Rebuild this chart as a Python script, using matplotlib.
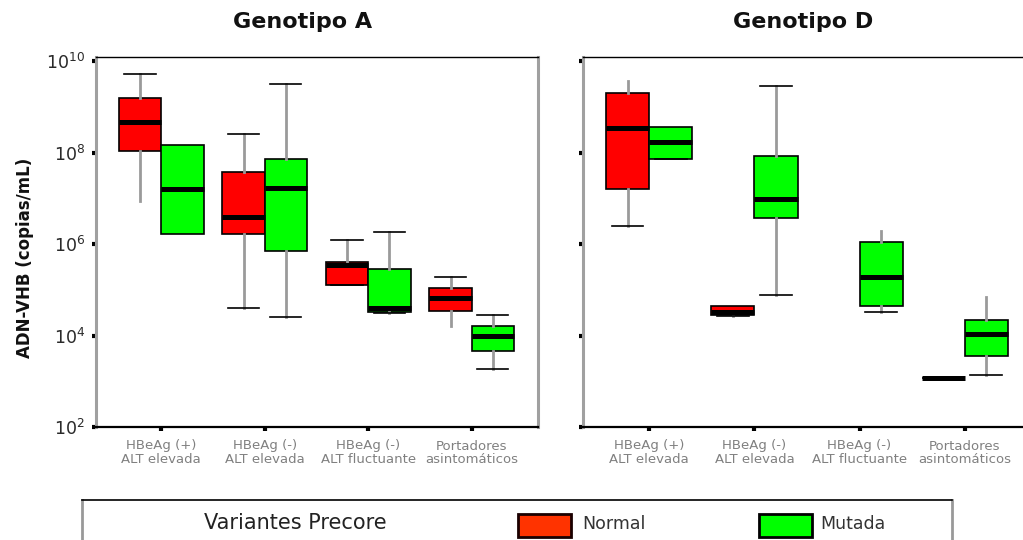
import matplotlib
matplotlib.use("Agg")
import matplotlib.pyplot as plt
from matplotlib.patches import Rectangle

plt.rcParams["font.family"] = ["DejaVu Sans"]

W, H = 1023, 540

categories = ["HBeAg (+)\nALT elevada", "HBeAg (-)\nALT elevada",
              "HBeAg (-)\nALT fluctuante", "Portadores\nasintomáticos"]
panels = ["Genotipo A", "Genotipo D"]
series = ["Normal", "Mutada"]

# (lower whisker, Q1, median, Q3, upper whisker) per category, copias/mL; None = no data
genotipo_a_normal = [(8.9e6, 1.1e8, 4.6e8, 1.6e9, 5.1e9),
                     (3.9e4, 1.7e6, 4.0e6, 3.7e7, 2.5e8),
                     (1.26e5, 1.3e5, 3.5e5, 4.1e5, 1.2e6),
                     (1.6e4, 3.4e4, 6.5e4, 1.1e5, 1.9e5)]
genotipo_a_mutada = [(1.7e6, 1.7e6, 1.6e7, 1.5e8, 1.5e8),
                     (2.5e4, 6.9e5, 1.7e7, 7.2e7, 3.2e9),
                     (3.1e4, 3.3e4, 3.9e4, 2.8e5, 1.8e6),
                     (1.9e3, 4.5e3, 1.0e4, 1.6e4, 2.8e4)]
genotipo_d_normal = [(2.5e6, 1.6e7, 3.4e8, 2.0e9, 3.6e9),
                     (2.7e4, 2.75e4, 3.3e4, 4.5e4, 4.5e4),
                     None,
                     (1.2e3, 1.2e3, 1.2e3, 1.2e3, 1.2e3)]
genotipo_d_mutada = [(7.2e7, 7.4e7, 1.7e8, 3.7e8, 3.7e8),
                     (7.8e4, 3.8e6, 9.5e6, 8.5e7, 2.9e9),
                     (3.2e4, 4.4e4, 1.9e5, 1.1e6, 1.9e6),
                     (1.35e3, 3.5e3, 1.07e4, 2.2e4, 6.8e4)]

ytick_values = [1e2, 1e4, 1e6, 1e8, 1e10]
ytick_labels = ["$10^{2}$", "$10^{4}$", "$10^{6}$", "$10^{8}$", "$10^{10}$"]

colors = {"Normal": "#ff0000", "Mutada": "#00ff00"}
legend_colors = {"Normal": "#ff3300", "Mutada": "#00ff00"}
offsets = {"Normal": -0.205, "Mutada": 0.205}

# whisker ends drawn without a cap: (panel, series, category index, 0=lower / 1=upper)
capless = {("Genotipo A", "Normal", 0, 0), ("Genotipo A", "Normal", 3, 0),
           ("Genotipo A", "Mutada", 0, 0), ("Genotipo A", "Mutada", 0, 1),
           ("Genotipo D", "Normal", 0, 1), ("Genotipo D", "Normal", 1, 1),
           ("Genotipo D", "Normal", 3, 0), ("Genotipo D", "Normal", 3, 1),
           ("Genotipo D", "Mutada", 0, 1),
           ("Genotipo D", "Mutada", 2, 1), ("Genotipo D", "Mutada", 3, 1)}

panel_data = {
    "Genotipo A": {"Normal": genotipo_a_normal, "Mutada": genotipo_a_mutada},
    "Genotipo D": {"Normal": genotipo_d_normal, "Mutada": genotipo_d_mutada},
}

fig = plt.figure(figsize=(W / 100, H / 100), dpi=100)

axes_px = {"Genotipo A": (96, 538), "Genotipo D": (583, 1032)}
top_px, bottom_px = 57, 427
title_x = {"Genotipo A": 303, "Genotipo D": 803}

for name in panels:
    x0, x1 = axes_px[name]
    ax = fig.add_axes([x0 / W, 1 - bottom_px / H, (x1 - x0) / W, (bottom_px - top_px) / H])
    for s in series:
        stats, pos, idx = [], [], []
        for i, vals in enumerate(panel_data[name][s]):
            if vals is None:
                continue
            lo, q1, med, q3, hi = vals
            stats.append(dict(whislo=lo, q1=q1, med=med, q3=q3, whishi=hi, fliers=[]))
            pos.append(i + 1 + offsets[s])
            idx.append(i)
        art = ax.bxp(stats, positions=pos, widths=0.41, capwidths=0.3, patch_artist=True,
                     showfliers=False,
                     boxprops=dict(facecolor=colors[s], edgecolor="black", linewidth=1.2),
                     medianprops=dict(color="black", linewidth=3.6, solid_capstyle="butt"),
                     whiskerprops=dict(color="#9a9a9a", linewidth=2.0),
                     capprops=dict(color="black", linewidth=1.2))
        for k, i in enumerate(idx):
            for end in (0, 1):
                if (name, s, i, end) in capless:
                    art["caps"][2 * k + end].set_visible(False)
    ax.set_yscale("log")
    ax.set_ylim(1e2, 10 ** 10.09)
    ax.set_xlim(0.37, 4.64)
    ax.set_yticks(ytick_values)
    ax.minorticks_off()
    ax.set_xticks(range(1, len(categories) + 1))
    ax.set_xticklabels(categories, fontsize=9.5, color="#808080", linespacing=1.05)
    if name == "Genotipo A":
        ax.set_yticklabels(ytick_labels, fontsize=12.5, color="#2a2a2a")
    else:
        ax.set_yticklabels([])
    ax.tick_params(axis="both", direction="out", length=3, width=3, color="black")
    ax.tick_params(axis="x", pad=6)
    ax.tick_params(axis="y", pad=5)
    ax.spines["left"].set_color("#a0a0a0")
    ax.spines["left"].set_linewidth(2.2)
    ax.spines["right"].set_color("#a0a0a0")
    ax.spines["right"].set_linewidth(2.2)
    ax.spines["bottom"].set_color("black")
    ax.spines["bottom"].set_linewidth(1.6)
    ax.spines["top"].set_color("black")
    ax.spines["top"].set_linewidth(1.0)
    fig.text(title_x[name] / W, 1 - 22 / H, name, ha="center", va="center",
             fontsize=16, fontweight="bold", color="#111111")

fig.text(25 / W, 1 - 258 / H, "ADN-VHB (copias/mL)", rotation=90, ha="center",
         va="center", fontsize=12, fontweight="bold", color="#111111")

# legend frame below the panels
lax = fig.add_axes([82 / W, 1 - 567 / H, (952 - 82) / W, (567 - 500) / H])
lax.set_xlim(82, 952)
lax.set_ylim(567, 500)
lax.set_xticks([])
lax.set_yticks([])
lax.patch.set_alpha(0)
lax.spines["bottom"].set_visible(False)
lax.spines["top"].set_color("black")
lax.spines["top"].set_linewidth(1.2)
for side in ("left", "right"):
    lax.spines[side].set_color("#999999")
    lax.spines[side].set_linewidth(2.0)

lax.text(295, 523, "Variantes Precore", ha="center", va="center", fontsize=15,
         color="#222222")
legend_px = {"Normal": (518, 582), "Mutada": (759, 820)}
for s in series:
    px, tx = legend_px[s]
    lax.add_patch(Rectangle((px, 514), 53, 23, facecolor=legend_colors[s],
                            edgecolor="#1a0000" if s == "Normal" else "black",
                            linewidth=2.0))
    lax.text(tx, 524, s, ha="left", va="center", fontsize=12.5, color="#333333")

fig.savefig("out.png", dpi=100)
